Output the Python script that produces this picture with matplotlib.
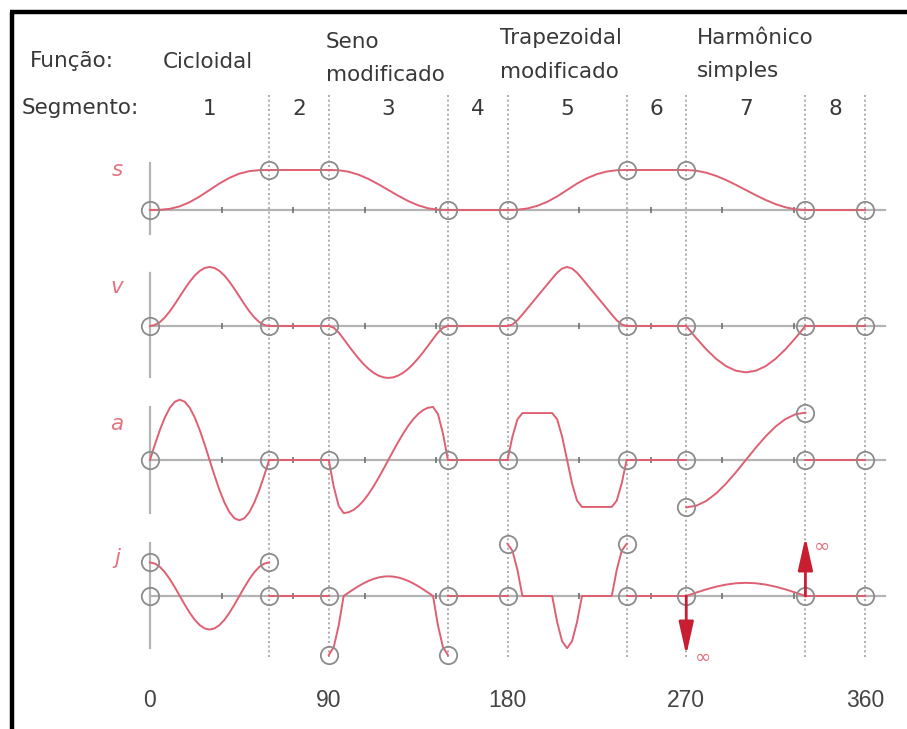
import matplotlib
matplotlib.use("Agg")
import matplotlib.pyplot as plt
import numpy as np

# ---------------- data ----------------
boundaries = [0, 60, 90, 150, 180, 240, 270, 330, 360]
segment_labels = ["1", "2", "3", "4", "5", "6", "7", "8"]
function_names = [["Cicloidal"], ["Seno", "modificado"], ["Trapezoidal", "modificado"],
                  ["Harmônico", "simples"]]
row_labels = ["s", "v", "a", "j"]
xtick_values = [0, 90, 180, 270, 360]
minor_ticks = [36, 72, 108, 144, 216, 252, 288, 324]
motion_segments = [(0, 60), (90, 150), (180, 240), (270, 330)]

# displacement (fraction of lift)
s_cyc = [0, .004, .029, .091, .196, .337, .5, .663, .804, .909, .971, .996, 1]
s_msin = [1, .994, .957, .883, .776, .644, .5, .356, .224, .117, .043, .006, 0]
s_mtrap = [0, .006, .038, .104, .205, .339, .5, .661, .795, .896, .962, .994, 1]
s_shm = [1, .983, .933, .854, .75, .629, .5, .371, .25, .146, .067, .017, 0]

# velocity
v_cyc = [0, .034, .134, .293, .5, .741, 1, 1.259, 1.5, 1.707, 1.866, 1.966, 2,
         1.966, 1.866, 1.707, 1.5, 1.259, 1, .741, .5, .293, .134, .034, 0]
v_msin = [0, -.059, -.22, -.44, -.669, -.891, -1.1, -1.288, -1.451, -1.583, -1.68, -1.74, -1.76,
          -1.74, -1.68, -1.583, -1.451, -1.288, -1.1, -.891, -.669, -.44, -.22, -.059, 0]
v_mtrap = [0, .052, .194, .389, .593, .796, 1.0, 1.204, 1.407, 1.611, 1.806, 1.948, 2.0,
           1.948, 1.806, 1.611, 1.407, 1.204, 1.0, .796, .593, .389, .194, .052, 0]
v_shm = [0, -.407, -.785, -1.111, -1.36, -1.517, -1.571, -1.517, -1.36, -1.111, -.785, -.407, 0]

# acceleration
a_cyc = [0, 1.626, 3.142, 4.443, 5.441, 6.069, 6.283, 6.069, 5.441, 4.443, 3.142, 1.626, 0,
         -1.626, -3.142, -4.443, -5.441, -6.069, -6.283, -6.069, -5.441, -4.443, -3.142, -1.626, 0]
a_msin = [0, -2.764, -4.787, -5.528, -5.444, -5.195, -4.787, -4.235, -3.553, -2.764, -1.891, -.96, 0,
          .96, 1.891, 2.764, 3.553, 4.235, 4.787, 5.195, 5.444, 5.528, 4.787, 2.764, 0]
a_mtrap = [0, 2.444, 4.233, 4.888, 4.888, 4.888, 4.888, 4.888, 4.888, 4.888, 4.233, 2.444, 0,
           -2.444, -4.233, -4.888, -4.888, -4.888, -4.888, -4.888, -4.888, -4.888, -4.233, -2.444, 0]
a_shm = [-4.935, -4.767, -4.274, -3.489, -2.467, -1.277, 0, 1.277, 2.467, 3.489, 4.274, 4.767, 4.935]

# jerk
j_cyc = [39.48, 38.13, 34.19, 27.92, 19.74, 10.22, 0, -10.22, -19.74, -27.92, -34.19, -38.13, -39.48,
         -38.13, -34.19, -27.92, -19.74, -10.22, 0, 10.22, 19.74, 27.92, 34.19, 38.13, 39.48]
j_msin = [-69.47, -60.16, -34.73, 0, 4.02, 7.92, 11.58, 14.88, 17.74, 20.05, 21.76, 22.8, 23.16,
          22.8, 21.76, 20.05, 17.74, 14.88, 11.58, 7.92, 4.02, 0, -34.73, -60.16, -69.47]
j_mtrap = [61.43, 53.2, 30.71, 0, 0, 0, 0, 0, 0, 0, -30.71, -53.2, -61.43,
           -53.2, -30.71, 0, 0, 0, 0, 0, 0, 0, 30.71, 53.2, 61.43]
j_shm = [0, 4.01, 7.75, 10.96, 13.43, 14.98, 15.5, 14.98, 13.43, 10.96, 7.75, 4.01, 0]
j_infinite = [(270, -1), (330, 1)]

rows = [
    ("s", [s_cyc, s_msin, s_mtrap, s_shm]),
    ("v", [v_cyc, v_msin, v_mtrap, v_shm]),
    ("a", [a_cyc, a_msin, a_mtrap, a_shm]),
    ("j", [j_cyc, j_msin, j_mtrap, j_shm]),
]

# ---------------- layout / style ----------------
W, H = 907, 729
X0, PXDEG = 150.0, 715.0 / 360.0          # pixel of 0 deg, pixels per degree
row_base = {"s": 210, "v": 326, "a": 460, "j": 596}
row_scale = {"s": 40.0, "v": 29.5, "a": 9.6, "j": 0.85}
row_axis_ext = {"s": (47, 24), "v": (53, 51), "a": (53, 53), "j": (53, 52)}
row_label_y = {"s": 170, "v": 287, "a": 424, "j": 558}

RED = "#de6072"
DARKRED = "#c81e32"
GRAY = "#b4b4b4"
TXT = "#383838"
HFONT = 15.5


def px2deg(px):
    return (px - X0) / PXDEG


def dpx(px):
    return px / PXDEG


fig = plt.figure(figsize=(W / 100, H / 100), dpi=100)
ax = fig.add_axes([0, 0, 1, 1])
ax.set_xlim(px2deg(0), px2deg(W))
ax.set_ylim(H, 0)
ax.axis("off")

# frame (top and left edges)
ax.plot([px2deg(12), px2deg(12)], [729, 12], color="black", lw=3.2, solid_capstyle="butt")
ax.plot([px2deg(10), px2deg(907)], [12, 12], color="black", lw=3.2, solid_capstyle="butt")

# dotted boundary lines
for b in boundaries[1:]:
    ax.plot([b, b], [95, 658], color="#a0a0a0", lw=1.2, ls=(0, (1.2, 1.6)), zorder=1)

# header texts
ax.text(px2deg(30), 67, "Função:", fontsize=HFONT, color=TXT, ha="left", va="baseline")
ax.text(px2deg(22), 114, "Segmento:", fontsize=HFONT, color=TXT, ha="left", va="baseline")
name_pos = [(px2deg(163), [68]), (px2deg(326), [48, 81]), (px2deg(500), [44, 78]),
            (px2deg(697), [44, 77])]
for (xx, ys), lines in zip(name_pos, function_names):
    for yy, line in zip(ys, lines):
        ax.text(xx, yy, line, fontsize=HFONT, color=TXT, ha="left", va="baseline")
for i, lab in enumerate(segment_labels):
    xc = (boundaries[i] + boundaries[i + 1]) / 2
    ax.text(xc, 115, lab, fontsize=HFONT, color=TXT, ha="center", va="baseline")

# x labels
for xv in xtick_values:
    ax.text(xv, 707, str(xv), fontsize=16.5, color="#444444", ha="center", va="baseline",
            family="Liberation Sans")

for name, segs in rows:
    base = row_base[name]
    sc = row_scale[name]
    up, dn = row_axis_ext[name]
    # axes
    ax.plot([0, px2deg(885)], [base, base], color=GRAY, lw=1.6, zorder=2)
    ax.plot([0, 0], [base - up, base + dn], color=GRAY, lw=1.6, zorder=2)
    ax.plot(minor_ticks, [base] * len(minor_ticks), ls="none", marker="|", ms=5,
            mew=1.2, color="#707070", zorder=2)
    ax.text(px2deg(117), row_label_y[name], name, fontsize=15.5, color="#e27482",
            style="italic", ha="center", va="center")

    circles = set()
    for (x0, x1), vals in zip(motion_segments, segs):
        xs = np.linspace(x0, x1, len(vals))
        ys = base - sc * np.asarray(vals, dtype=float)
        ax.plot(xs, ys, color=RED, lw=1.4, zorder=3)
        circles.add((x0, round(vals[0], 3)))
        circles.add((x1, round(vals[-1], 3)))
    # dwell segments
    for i, (x0, x1) in enumerate(motion_segments):
        nxt = motion_segments[i + 1][0] if i + 1 < len(motion_segments) else 360
        val = segs[i][-1] if name == "s" else 0
        ax.plot([x1, nxt], [base - sc * val] * 2, color=RED, lw=1.4, zorder=3)
        if name == "s":
            circles.add((nxt, round(val, 3)))
    if name != "s":
        for b in boundaries:
            circles.add((b, 0.0))
    cx = [c[0] for c in circles]
    cy = [base - sc * c[1] for c in circles]
    ax.plot(cx, cy, ls="none", marker="o", ms=12.5, mfc="none", mec="#8c8c8c", mew=1.3, zorder=4)

    if name == "j":
        for xa, sign in j_infinite:
            ax.annotate("", xy=(xa, base - sign * 59), xytext=(xa, base),
                        arrowprops=dict(arrowstyle="-|>,head_length=2.0,head_width=0.45",
                                        color=DARKRED, lw=2.0, shrinkA=0, shrinkB=0,
                                        mutation_scale=10), zorder=5)
            if sign < 0:
                ax.text(xa + dpx(9), base + 61, "∞", fontsize=14,
                        color="#e0707e", ha="left", va="center")
            else:
                ax.text(xa + dpx(8), base - 50, "∞", fontsize=14,
                        color="#e0707e", ha="left", va="center")

fig.savefig("out.png", dpi=100)
